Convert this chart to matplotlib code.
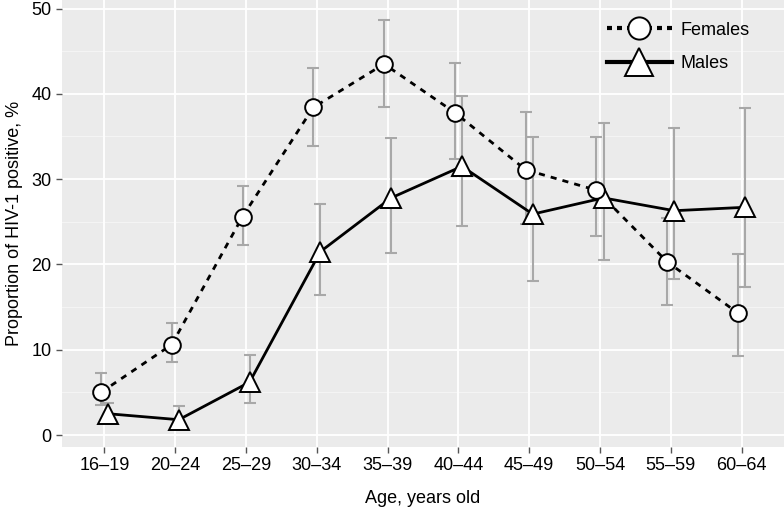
# coding=utf-8
import numpy as np
import matplotlib
matplotlib.use('Agg')
from matplotlib import pyplot as plt
from matplotlib.lines import Line2D

plt.rcParams['font.family'] = ['Liberation Sans', 'DejaVu Sans']

# age groups
ages = ['16\u201319', '20\u201324', '25\u201329', '30\u201334', '35\u201339',
        '40\u201344', '45\u201349', '50\u201354', '55\u201359', '60\u201364']

# proportion positive, % (with lower / upper CI)
female = [5.0, 10.6, 25.6, 38.4, 43.5, 37.8, 31.1, 28.7, 20.3, 14.3]
female_lo = [3.5, 8.6, 22.3, 33.9, 38.5, 32.4, 24.8, 23.3, 15.2, 9.3]
female_hi = [7.3, 13.1, 29.2, 43.0, 48.6, 43.6, 37.9, 34.9, 25.4, 21.2]

male = [2.5, 1.8, 6.2, 21.5, 27.8, 31.5, 25.9, 27.8, 26.3, 26.7]
male_lo = [1.5, 1.0, 3.8, 16.4, 21.4, 24.5, 18.1, 20.5, 18.3, 17.4]
male_hi = [3.8, 3.4, 9.4, 27.1, 34.8, 39.7, 34.9, 36.6, 36.0, 38.3]

x = np.arange(1, len(ages) + 1)
xf = x - 0.05
xm = x + 0.05

fig = plt.figure(figsize=(7.84, 5.14), dpi=100)
ax = fig.add_axes([62 / 784, 67 / 514, 722 / 784, 447 / 514])
ax.set_facecolor('#EBEBEB')

# grid
for v in range(0, 51, 10):
    ax.axhline(v, color='white', lw=1.3, zorder=0)
for v in range(5, 50, 10):
    ax.axhline(v, color='#F5F5F5', lw=0.7, zorder=0)
for v in x:
    ax.axvline(v, color='white', lw=1.3, zorder=0)

ebar = '#A8A8A8'
ax.errorbar(xf, female, yerr=[np.array(female) - np.array(female_lo),
                              np.array(female_hi) - np.array(female)],
            fmt='none', ecolor=ebar, elinewidth=1.5, capsize=4, capthick=1.5, zorder=2)
ax.errorbar(xm, male, yerr=[np.array(male) - np.array(male_lo),
                            np.array(male_hi) - np.array(male)],
            fmt='none', ecolor=ebar, elinewidth=1.5, capsize=4, capthick=1.5, zorder=2)

ax.plot(xm, male, color='black', lw=2.0, zorder=3)
ax.plot(xf, female, color='black', lw=2.0, ls=(0, (2.2, 2.2)), zorder=3)
ax.plot(xm, male, ls='none', marker='^', ms=15, mfc='white', mec='black', mew=1.4, zorder=4)
ax.plot(xf, female, ls='none', marker='o', ms=12, mfc='white', mec='black', mew=1.4, zorder=5)

ax.set_xlim(0.4, 10.6)
ax.set_ylim(-1.4, 51.0)
ax.set_xticks(x)
ax.set_xticklabels(ages)
ax.set_yticks(range(0, 51, 10))
ax.tick_params(axis='both', colors='#555555', labelcolor='black', labelsize=13,
               length=4, width=1)
for s in ax.spines.values():
    s.set_visible(False)

ax.set_xlabel('Age, years old', fontsize=13, labelpad=11)
ax.set_ylabel('Proportion of HIV-1 positive, %', fontsize=13, labelpad=6)

handles = [
    Line2D([0], [0], color='black', lw=3, ls=(0, (1.2, 1.2)), marker='o', ms=16,
           mfc='white', mec='black', mew=1.4),
    Line2D([0], [0], color='black', lw=3, marker='^', ms=20,
           mfc='white', mec='black', mew=1.4),
]
leg = ax.legend(handles, ['Females', 'Males'], loc='upper right',
                bbox_to_anchor=(0.975, 0.988), frameon=False, fontsize=13,
                handlelength=3.6, handletextpad=0.5, labelspacing=0.9)

fig.savefig('out.png', dpi=100)
